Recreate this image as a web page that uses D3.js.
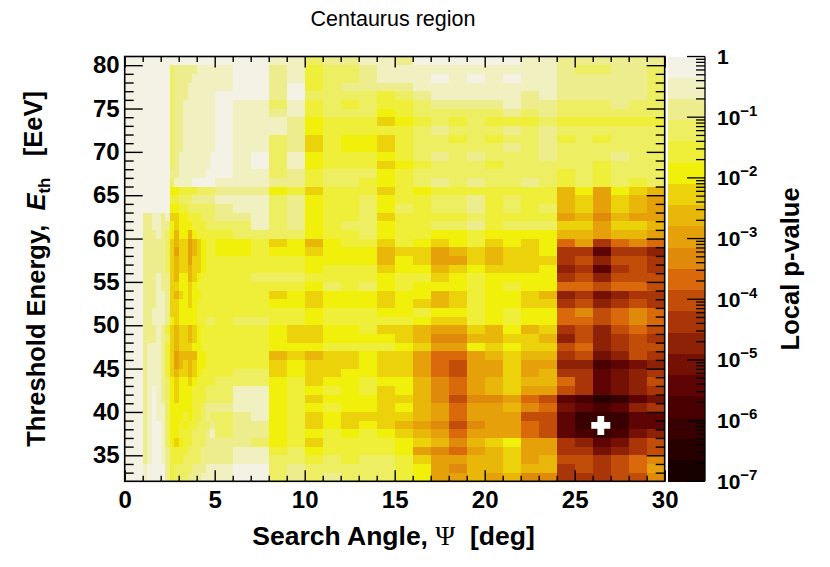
<!DOCTYPE html>
<html>
<head>
<meta charset="utf-8">
<script src="https://cdn.jsdelivr.net/npm/d3@7"></script>
<style>
  body { margin: 0; background: #fff; }
  svg { display: block; }
  text { font-family: "Liberation Sans", Arial, Helvetica, sans-serif; }
</style>
</head>
<body>
<div id="chart"></div>
<script>
// ── Data ──────────────────────────────────────────────────────────────────────
// search-angle bin edges [deg]
const angleEdges = [0, 1, 1.25, 1.5, 1.75, 2, 2.25, 2.5, 2.75, 3, 3.25, 3.5, 3.75, 4,
  4.25, 4.5, 4.75, 5, 6, 7, 8, 9, 10, 11, 12, 13, 14, 15, 16, 17, 18, 19, 20,
  21, 22, 23, 24, 25, 26, 27, 28, 29, 30];

// lower edge of each threshold-energy row [EeV], top row first
const energyRows = [80, 79, 78, 77, 76, 75, 74, 73, 72, 71, 70, 69, 68, 67, 66, 65,
  64, 63, 62, 61, 60, 59, 58, 57, 56, 55, 54, 53, 52, 51, 50, 49, 48, 47, 46, 45,
  44, 43, 42, 41, 40, 39, 38, 37, 36, 35, 34, 33, 32];

// palette level per cell (0 = p~1 ... j = p~1e-7), one char per angle bin
// 0-10 deg (22 bins)
const levelsLow = [
  "0000000000000000000011", "0000000322222111110021", "0000000322221111110021",
  "0000000322211111110020", "0000000322211111100020", "0000000322111111101131",
  "0000000322111111101121", "0000000322111111101112", "0000000322111111101112",
  "0000000322111111101132", "0000000322111111101132", "0000000321111111001031",
  "0000000321111111001031", "0000000221111110001132", "0000000311110000011122",
  "0000000554444333322254", "0000000443332222211132", "0000000554433333321132",
  "0221121665544433322132", "0221122565554443333132", "0222123575575444443333",
  "0222223676687654455465", "0222223686687654455455", "0222223676686654444444",
  "0222223676676654444444", "0222122675576544444333", "0222122665565444444444",
  "0222112676565544444465", "0222112665565444444455", "0221112665555444444444",
  "0221112565555443343344", "0222124676676544444456", "0222123676676544444456",
  "0211124676665544444455", "0211124687777554444476", "0211124687676554444465",
  "0211124676676544443365", "0211123565565444433354", "0210123565554443331154",
  "0210123565554443331154", "0210113555554432221154", "0210113555454432332154",
  "0210013554544333232254", "0210013554443332132254", "0210013565443332222354",
  "0210012444433322221143", "0210012444333322221133", "0100002433332221110032",
  "0100002433322211110032"
];
// 10-20 deg (10 bins)
const levelsMid = [
  "3221120000", "4332111111", "4332111010", "4322221111", "3333432111",
  "4343443222", "4333543333", "5444654343", "5444443233", "6455643343",
  "6455643333", "5444543232", "5444654333", "4333543333", "4334543232",
  "6444645444", "5443544332", "5443534332", "5443644443", "5433544332",
  "5443544554", "7544645654", "6555766876", "5555756886", "5444655765",
  "4444544654", "5343545554", "6555655764", "6555656764", "5444554554",
  "5444445664", "6554667886", "6555567997", "5444456885", "7665668aa8",
  "6665668ab8", "6655668ab8", "65545579a8", "54546579a8", "65556679b9",
  "54556578a8", "65666678a8", "65656789b9", "54545678a8", "6444456797",
  "54444589a8", "4343346887", "3333345897", "3233345887"
];
// 20-30 deg (10 bins)
const levelsHigh = [
  "0011222222", "1111233223", "1011222223", "1111222223", "1121222223",
  "2122333233", "3232333333", "4443444444", "3232333333", "4332434333",
  "3232333333", "3332333233", "4333334333", "3333434333", "3323434343",
  "4444758567", "4344768678", "4343768678", "4444879788", "4333668667",
  "5555778778", "6565a8ca9a", "7665ccfccd", "7666cbdbbc", "6665dcfcbc",
  "5555cbdbbb", "5455aabaab", "5567dcedcc", "5566cbdcbc", "5455a9ba9a",
  "5455aaba9a", "7576cbdbab", "7667dbdcbc", "6566badcbb", "7677cbedbc",
  "8688ddgfed", "8687ccfedc", "7677acfedb", "7688bcfedc", "98abfgihfe",
  "879aefgfdc", "88bbfhhhff", "88abfhhhff", "88abfghged", "6588cdfecb",
  "7688ccedcb", "7687bbcba9", "7677cbcba8", "8799cccbb9"
];

const xTicks      = [0, 5, 10, 15, 20, 25, 30];
const yTicks      = [35, 40, 45, 50, 55, 60, 65, 70, 75, 80];
const pDecades    = [0, -1, -2, -3, -4, -5, -6, -7];
const bestSpot    = { angle: 26.45, energy: 38.45 };

// ── Palette (20 log-spaced bands, 1 → 1e-7) ──────────────────────────────────
const PALETTE = ["#f3f2e4", "#f0f0c0", "#eeed8e", "#eeee62", "#efef3a", "#f0f00a",
  "#ecd20a", "#e9b70a", "#e5a00a", "#e08a0c", "#d9690a", "#c24d08", "#a93508",
  "#8e2206", "#741104", "#5e0404", "#4a0000", "#380000", "#280000", "#180000"];

// ── Dimensions ────────────────────────────────────────────────────────────────
const W = 830, H = 567;
const plot = { left: 124.7, right: 664.7, top: 56.5, bottom: 481.3 };
const bar  = { left: 667.5, right: 705 };

const svg = d3.select("#chart").append("svg").attr("width", W).attr("height", H);

const x = d3.scaleLinear().domain([0, 30]).range([plot.left, plot.right]);
const y = d3.scaleLinear().domain([32, 81]).range([plot.bottom, plot.top]);
const pScale = d3.scaleLog().domain([1e-7, 1]).range([plot.bottom, plot.top]);

// ── Heat map cells ────────────────────────────────────────────────────────────
const cells = [];
energyRows.forEach((e, i) => {
  const row = levelsLow[i] + levelsMid[i] + levelsHigh[i];
  for (let j = 0; j < angleEdges.length - 1; j++) {
    cells.push({ a0: angleEdges[j], a1: angleEdges[j + 1], e, lvl: parseInt(row[j], 36) });
  }
});

svg.append("g").attr("shape-rendering", "crispEdges")
  .selectAll("rect").data(cells).join("rect")
  .attr("x", d => x(d.a0))
  .attr("y", d => y(d.e + 1))
  .attr("width", d => x(d.a1) - x(d.a0) + 0.4)
  .attr("height", d => y(d.e) - y(d.e + 1) + 0.4)
  .attr("fill", d => PALETTE[d.lvl]);

// best spot marker
const cx = x(bestSpot.angle), cy = y(bestSpot.energy), s = 9.5, t = 3.4;
svg.append("path")
  .attr("d", `M${cx - t},${cy - s}h${2 * t}v${s - t}h${s - t}v${2 * t}h${-(s - t)}v${s - t}h${-2 * t}v${-(s - t)}h${-(s - t)}v${-2 * t}h${s - t}z`)
  .attr("fill", "#fff");

// ── Axes ──────────────────────────────────────────────────────────────────────
const minorX = d3.range(1, 30).filter(v => v % 5);
const minorY = d3.range(33, 81).filter(v => v % 5);
const styleAxis = g => {
  g.select(".domain").remove();
  g.selectAll("line").attr("stroke", "#000").attr("stroke-width", 1.4);
  g.selectAll("text").attr("font-size", 24).attr("font-weight", "bold").attr("fill", "#000");
};

svg.append("g").attr("transform", `translate(0,${plot.bottom})`)
  .call(d3.axisBottom(x).tickValues(xTicks).tickSize(-11).tickPadding(10).tickFormat(d3.format("d")))
  .call(styleAxis);
svg.append("g").attr("transform", `translate(0,${plot.bottom})`)
  .call(d3.axisBottom(x).tickValues(minorX).tickSize(-5.5).tickFormat(""))
  .call(styleAxis);
svg.append("g").attr("transform", `translate(0,${plot.top})`)
  .call(d3.axisTop(x).tickValues(xTicks).tickSize(-11).tickFormat(""))
  .call(styleAxis);
svg.append("g").attr("transform", `translate(0,${plot.top})`)
  .call(d3.axisTop(x).tickValues(minorX).tickSize(-5.5).tickFormat(""))
  .call(styleAxis);

svg.append("g").attr("transform", `translate(${plot.left},0)`)
  .call(d3.axisLeft(y).tickValues(yTicks).tickSize(-18).tickPadding(5))
  .call(styleAxis);
svg.append("g").attr("transform", `translate(${plot.left},0)`)
  .call(d3.axisLeft(y).tickValues(minorY).tickSize(-9).tickFormat(""))
  .call(styleAxis);
svg.append("g").attr("transform", `translate(${plot.right},0)`)
  .call(d3.axisRight(y).tickValues(yTicks).tickSize(-18).tickFormat(""))
  .call(styleAxis);
svg.append("g").attr("transform", `translate(${plot.right},0)`)
  .call(d3.axisRight(y).tickValues(minorY).tickSize(-9).tickFormat(""))
  .call(styleAxis);

svg.append("rect")
  .attr("x", plot.left).attr("y", plot.top)
  .attr("width", plot.right - plot.left).attr("height", plot.bottom - plot.top)
  .attr("fill", "none").attr("stroke", "#000").attr("stroke-width", 1.6);

// ── Colour bar ────────────────────────────────────────────────────────────────
const bandG = svg.append("g").attr("shape-rendering", "crispEdges");
PALETTE.forEach((c, k) => {
  const hi = Math.pow(10, -7 * k / 20), lo = Math.pow(10, -7 * (k + 1) / 20);
  bandG.append("rect")
    .attr("x", bar.left).attr("width", bar.right - bar.left)
    .attr("y", pScale(hi)).attr("height", pScale(lo) - pScale(hi) + 0.4)
    .attr("fill", c);
});

const barAxis = svg.append("g").attr("stroke", "#000").attr("stroke-width", 1.3);
barAxis.append("line")
  .attr("x1", bar.right).attr("x2", bar.right)
  .attr("y1", plot.top).attr("y2", plot.bottom);
pDecades.forEach(d => {
  barAxis.append("line")
    .attr("x1", bar.right - 18).attr("x2", bar.right)
    .attr("y1", pScale(Math.pow(10, d))).attr("y2", pScale(Math.pow(10, d)));
  if (d > -7) {
    for (let m = 2; m <= 9; m++) {
      const v = m * Math.pow(10, d - 1);
      barAxis.append("line")
        .attr("x1", bar.right - 9).attr("x2", bar.right)
        .attr("y1", pScale(v)).attr("y2", pScale(v));
    }
  }
});

pDecades.forEach(d => {
  const ty = pScale(Math.pow(10, d));
  const lab = svg.append("text")
    .attr("x", 717).attr("y", ty).attr("dy", "0.36em")
    .attr("font-size", 21).attr("font-weight", "bold");
  if (d === 0) {
    lab.text("1");
  } else {
    lab.append("tspan").text("10");
    lab.append("tspan").attr("dy", "-0.6em").attr("font-size", 15).text("\u2212" + (-d));
  }
});

svg.append("text")
  .attr("transform", `translate(799,${(plot.top + plot.bottom) / 2}) rotate(-90)`)
  .attr("text-anchor", "middle")
  .attr("font-size", 25.5).attr("font-weight", "bold")
  .text("Local p-value");

// ── Titles ────────────────────────────────────────────────────────────────────
svg.append("text")
  .attr("x", 393).attr("y", 26)
  .attr("text-anchor", "middle").attr("font-size", 21.5)
  .text("Centaurus region");

const xt = svg.append("text")
  .attr("x", 393.5).attr("y", 545)
  .attr("text-anchor", "middle").attr("font-size", 26.5).attr("font-weight", "bold")
  .attr("xml:space", "preserve");
xt.append("tspan").text("Search Angle, ");
xt.append("tspan").attr("font-family", "'Liberation Serif', 'DejaVu Serif', serif")
  .attr("font-weight", "normal").attr("font-size", 27).text("\u03A8");
xt.append("tspan").text("  [deg]");

const yt = svg.append("text")
  .attr("transform", `translate(45,${(plot.top + plot.bottom) / 2}) rotate(-90)`)
  .attr("text-anchor", "middle").attr("font-size", 25.5).attr("font-weight", "bold")
  .attr("xml:space", "preserve");
yt.append("tspan").text("Threshold Energy,  ");
yt.append("tspan").attr("font-style", "italic").text("E");
yt.append("tspan").attr("dy", "0.3em").attr("font-size", 17).text("th");
yt.append("tspan").attr("dy", "-0.3em").text("   [EeV]");
</script>
</body>
</html>
